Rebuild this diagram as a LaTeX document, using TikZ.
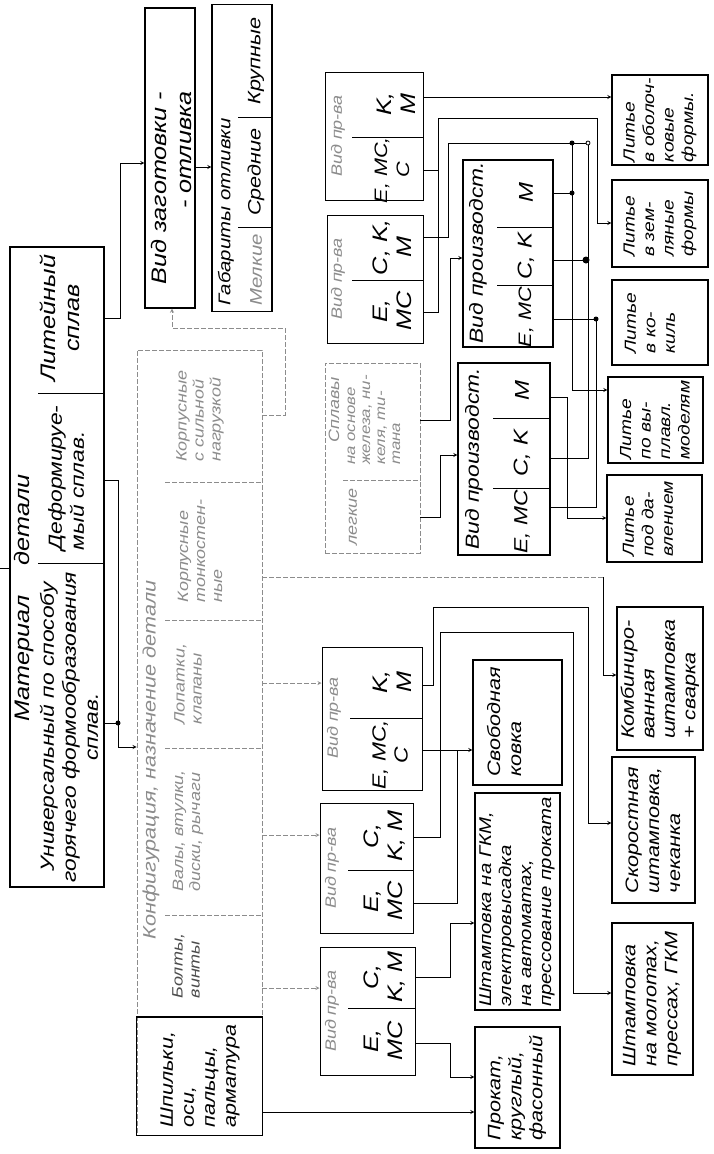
\documentclass[tikz,border=0pt]{standalone}
\usepackage{fontspec}
\setmainfont{Liberation Sans}[FakeStretch=1.2]
\begin{document}
\begin{tikzpicture}[x=1pt,y=-1pt,>=stealth,line width=0.8pt,
	box/.style={draw,line width=1.3pt,inner sep=0pt},
	fbox/.style={draw=black!45,line width=0.8pt,dash pattern=on 5pt off 2pt,inner sep=0pt},
	txt/.style={rotate=90,align=center,inner sep=0pt,font=\itshape\fontsize{17}{20}\selectfont},
	big/.style={font=\itshape\fontsize{21}{24}\selectfont},
	mid/.style={font=\itshape\fontsize{19}{22}\selectfont},
	huge/.style={font=\itshape\fontsize{20}{24}\selectfont},
	sml/.style={font=\itshape\fontsize{15}{17}\selectfont},
	lit/.style={font=\itshape\fontsize{16}{19.5}\selectfont},
	faint/.style={text=black!45},
	flnk/.style={draw=black!45,dash pattern=on 5pt off 2pt}]
	\fill[white] (0,0) rectangle (713,1154);
	\useasboundingbox (0,0) rectangle (713,1154);
	% material
	\node[box,minimum width=94,minimum height=640] (mat) at (57,567) {};
	\draw[line width=1pt] (38,393) -- (mat.east|-0,393);
	\draw[line width=1pt] (38,563) -- (mat.east|-0,563);
	\node[txt,big] (tmat) at (24,598) {Материал\hspace{30pt}детали};
	\node[txt,big] (tlit) at (60,318) {Литейный\\сплав};
	\node[txt,mid,align=left] (tdef) at (66,478) {Деформируе-\\мый сплав.};
	\node[txt,mid] (tuni) at (69,727) {Универсальный по способу\\горячего формообразования\\сплав.};
	% casting branch
	\node[box,minimum width=50,minimum height=300] (zag) at (170,158) {};
	\node[txt,align=right,font=\itshape\fontsize{21}{25}\selectfont] (tzag) at (171,188) {Вид заготовки -\\- отливка};
	\node[box,minimum width=60,minimum height=307] (gab) at (242,158) {};
	\draw[line width=1pt] (238,117) -- (gab.east|-0,117);
	\draw[line width=1pt] (238,227) -- (gab.east|-0,227);
	\node[txt] (tgab) at (226,212) {Габариты отливки};
	\node[txt,faint] (tmel) at (256,270) {Мелкие};
	\node[txt,font=\itshape\fontsize{18}{20}\selectfont] (tsre) at (256,172) {Средние};
	\node[txt,font=\itshape\fontsize{18}{20}\selectfont] (tkru) at (256,61) {Крупные};
	% configuration
	\node[fbox,minimum width=125,minimum height=785] (konf) at (199.5,742.5) {};
	\foreach \s in {482,620,748,915}
	\draw[flnk] (165,\s) -- (konf.east|-0,\s);
	\draw[line width=1.1pt] (konf.west|-0,1017) |- (konf.south east) -- (konf.east|-0,1017) -- cycle;
	\node[txt,faint,font=\itshape\fontsize{18}{20}\selectfont] (tkonf) at (151,760) {Конфигурация, назначение детали};
	\node[txt,sml,faint,align=left] (tks) at (200,416) {Корпусные\\с сильной\\нагрузкой};
	\node[txt,sml,faint,align=left] (tkt) at (200,551) {Корпусные\\тонкостен-\\ные};
	\node[txt,sml,faint,align=left] (tlop) at (188,684) {Лопатки,\\клапаны};
	\node[txt,sml,faint,align=left] (tval) at (188,831) {Валы, втулки,\\диски, рычаги};
	\node[txt,sml,text=black!70,align=left] (tbol) at (186,966) {Болты,\\винты};
	\node[txt,align=left,font=\itshape\fontsize{18}{21}\selectfont] (tshp) at (200,1076) {Шпильки,\\оси,\\пальцы,\\арматура};
	% kind of production, lower
	\node[box,line width=1pt,minimum width=100,minimum height=143] (vpr3) at (372,718.5) {};
	\node[box,line width=1pt,minimum width=93,minimum height=130] (vpr2) at (366.5,868) {};
	\node[box,line width=1pt,minimum width=95,minimum height=128] (vpr1) at (367.5,1011) {};
	\draw (350,718) -- (vpr3.east|-0,718);
	\draw (348,870) -- (vpr2.east|-0,870);
	\draw (348,1008) -- (vpr1.east|-0,1008);
	\node[txt,sml,faint] (tv3) at (334,718) {Вид пр-ва};
	\node[txt,sml,faint] (tv2) at (332,868) {Вид пр-ва};
	\node[txt,sml,faint] (tv1) at (332,1011) {Вид пр-ва};
	\node[txt,big] (tv3a) at (392,682) {K,\\M};
	\node[txt,mid] (tv3b) at (390,755) {E, MC,\\C};
	\node[txt,big] (tv2a) at (385,836) {C,\\K, M};
	\node[txt,big] (tv2b) at (383,901) {E,\\MC};
	\node[txt,big] (tv1a) at (385,977) {C,\\K, M};
	\node[txt,big] (tv1b) at (383,1041) {E,\\MC};
	% kind of production, upper
	\node[box,line width=1pt,minimum width=98,minimum height=128] (vprA) at (374,136) {};
	\node[box,line width=1pt,minimum width=96,minimum height=128] (vprB) at (375,279) {};
	\draw (352,137) -- (vprA.east|-0,137);
	\draw (352,280) -- (vprB.east|-0,280);
	\node[txt,sml,faint] (tvA) at (338,136) {Вид пр-ва};
	\node[txt,sml,faint] (tvB) at (338,279) {Вид пр-ва};
	\node[txt,big] (tvAa) at (396,104) {K,\\M};
	\node[txt,font=\itshape\fontsize{18}{22}\selectfont] (tvAb) at (392,170) {E, MC,\\C};
	\node[txt,big] (tvBa) at (392,247) {C, K,\\M};
	\node[txt,big] (tvBb) at (392,311) {E,\\MC};
	% alloys
	\node[fbox,minimum width=95,minimum height=190] (splav) at (372.5,458) {};
	\draw[flnk] (343,480) -- (splav.east|-0,480);
	\node[txt,sml,faint] (tspl) at (334,410) {Сплавы};
	\node[txt,font=\itshape\fontsize{14}{15}\selectfont,faint,align=left] (tsp1) at (374,420) {на основе\\железа, ни-\\келя, ти-\\тана};
	\node[txt,sml,faint] (tsp2) at (353,517) {легкие};
	% kind of production, full words
	\node[box,minimum width=90,minimum height=187] (vpU) at (508,253.5) {};
	\draw[line width=1pt] (497,227) -- (vpU.east|-0,227);
	\draw[line width=1pt] (497,285) -- (vpU.east|-0,285);
	\node[txt,mid] (tvU) at (478,253) {Вид производст.};
	\node[txt,huge] (tvU1) at (526,193) {M};
	\node[txt,huge] (tvU2) at (526,256) {C, K};
	\node[txt,font=\itshape\fontsize{18}{22}\selectfont] (tvU3) at (526,317) {E, MC};
	\node[box,minimum width=92,minimum height=192] (vpL) at (504,459) {};
	\draw[line width=1pt] (493,418) -- (vpL.east|-0,418);
	\draw[line width=1pt] (493,488) -- (vpL.east|-0,488);
	\node[txt,mid] (tvL) at (474,459) {Вид производст.};
	\node[txt,huge] (tvL1) at (522,390) {M};
	\node[txt,huge] (tvL2) at (522,453) {C, K};
	\node[txt,font=\itshape\fontsize{19}{22}\selectfont] (tvL3) at (522,522) {E, MC};
	% results, forging
	\node[box,minimum width=85,minimum height=121] (prokat) at (517.5,1087.5) {};
	\node[txt,align=left,font=\itshape\fontsize{18}{21}\selectfont] (tpro) at (517,1088) {Прокат,\\круглый,\\фасонный};
	\node[box,minimum width=85,minimum height=217] (shtGKM) at (517.5,901.5) {};
	\node[txt,align=left] (tgkm) at (517,902) {Штамповка на ГКМ,\\электровысадка\\на автоматах,\\прессование проката};
	\node[box,minimum width=89,minimum height=125] (svob) at (517.5,722.5) {};
	\node[txt,align=left,font=\itshape\fontsize{18}{21}\selectfont] (tsvo) at (504,722) {Свободная\\ковка};
	\node[box,minimum width=81,minimum height=152] (shtMol) at (652.5,999) {};
	\node[txt,align=left,font=\itshape\fontsize{18}{21}\selectfont] (tmol) at (652,999) {Штамповка\\на молотах,\\прессах, ГКМ};
	\node[box,minimum width=83,minimum height=146] (skor) at (653.5,830) {};
	\node[txt,align=left,font=\itshape\fontsize{18}{21}\selectfont] (tsko) at (653,830) {Скоростная\\штамповка,\\чеканка};
	\node[box,minimum width=86,minimum height=143] (komb) at (660,678.5) {};
	\node[txt,align=left,font=\itshape\fontsize{18}{20.5}\selectfont] (tkom) at (660,679) {Комбиниро-\\ванная\\штамповка\\+ сварка};
	% results, casting
	\node[box,minimum width=96,minimum height=90] (obol) at (660,120) {};
	\node[txt,lit,align=left] (tobo) at (660,120) {Литье\\в оболоч-\\ковые\\формы.};
	\node[box,minimum width=96,minimum height=87] (zeml) at (660,223.5) {};
	\node[txt,lit,align=left] (tzem) at (660,224) {Литье\\в зем-\\ляные\\формы};
	\node[box,minimum width=96,minimum height=85] (kok) at (660,322.5) {};
	\node[txt,lit,align=left] (tkok) at (650,323) {Литье\\в ко-\\киль};
	\node[box,minimum width=95,minimum height=86] (vypl) at (655.5,420) {};
	\node[txt,lit,align=left] (tvyp) at (655,420) {Литье\\по вы-\\плавл.\\моделям};
	\node[box,minimum width=95,minimum height=87] (davl) at (654.5,518.5) {};
	\node[txt,lit,align=left] (tdav) at (648,519) {Литье\\под да-\\влением};
	% links from material
	\draw (0,568) -- (mat.west|-0,568);
	\draw[->] (mat.east|-0,318) -| (120,163) -- (zag.west|-0,163);
	\draw[->] (mat.east|-0,480) -| (118,747) -- (konf.west|-0,747);
	\draw (mat.east|-0,723) -- (118,723);
	\fill (118,723) circle (2.5pt);
	\draw[->] (zag.east|-0,167) -- (gab.west|-0,167);
	% links from configuration
	\draw[flnk,->] (konf.east|-0,415) -| (285,328) -| (zag.south-|172,0);
	\draw[flnk] (konf.east|-0,577) -- (603,577);
	\draw[->] (603,577) |- (komb.west|-0,675);
	\draw[flnk,->] (konf.east|-0,683) -- (vpr3.west|-0,683);
	\draw[flnk,->] (konf.east|-0,835) -- (vpr2.west|-0,835);
	\draw[flnk,->] (konf.east|-0,988) -- (vpr1.west|-0,988);
	\draw[->] (konf.east|-0,1112) -- (prokat.west|-0,1112);
	% links to forging
	\draw[->] (vpr1.east|-0,1043) -| (450,1077) -- (prokat.west|-0,1077);
	\draw[->] (vpr1.east|-0,977) -| (450,923) -- (shtGKM.west|-0,923);
	\draw[->] (vpr2.east|-0,903) -| (457,750) -- (svob.west|-0,750);
	\draw (vpr3.east|-0,750) -- (457,750);
	\draw[->] (vpr2.east|-0,837) -| (440,632) -| (573,993) -- (shtMol.west|-0,993);
	\draw[->] (vpr3.east|-0,685) -| (433,607) -| (588,823) -- (skor.west|-0,823);
	% links to casting
	\draw[->] (splav.east|-0,420) -| (450,258) -- (vpU.west|-0,258);
	\draw[->] (splav.east|-0,517) -| (440,455) -- (vpL.west|-0,455);
	\draw[->] (vprA.east|-0,97) -- (obol.west|-0,97);
	\draw (vprA.east|-0,170) -- (438,170);
	\draw[->] (vprB.east|-0,312) -| (438,118) -| (597,223) -- (zeml.west|-0,223);
	\draw (vprB.east|-0,237) -| (448,143) -- (586,143);
	\draw (588,143) circle (2pt);
	\fill (572,143) circle (2.5pt);
	\draw (vpU.east|-0,193) -- (572,193);
	\fill (572,193) circle (2.5pt);
	\draw (vpU.east|-0,260) -- (586,260);
	\fill (586,260) circle (3.5pt);
	\draw (vpU.east|-0,319) -- (596,319);
	\fill (596,319) circle (2.5pt);
	\draw[->] (572,143) |- (vypl.west|-0,390);
	\draw (588,145) |- (vpL.east|-0,458);
	\draw (596,319) |- (vpL.east|-0,507);
	\draw[->] (vpL.east|-0,397) -| (567,518) -- (davl.west|-0,518);
\end{tikzpicture}
\end{document}
